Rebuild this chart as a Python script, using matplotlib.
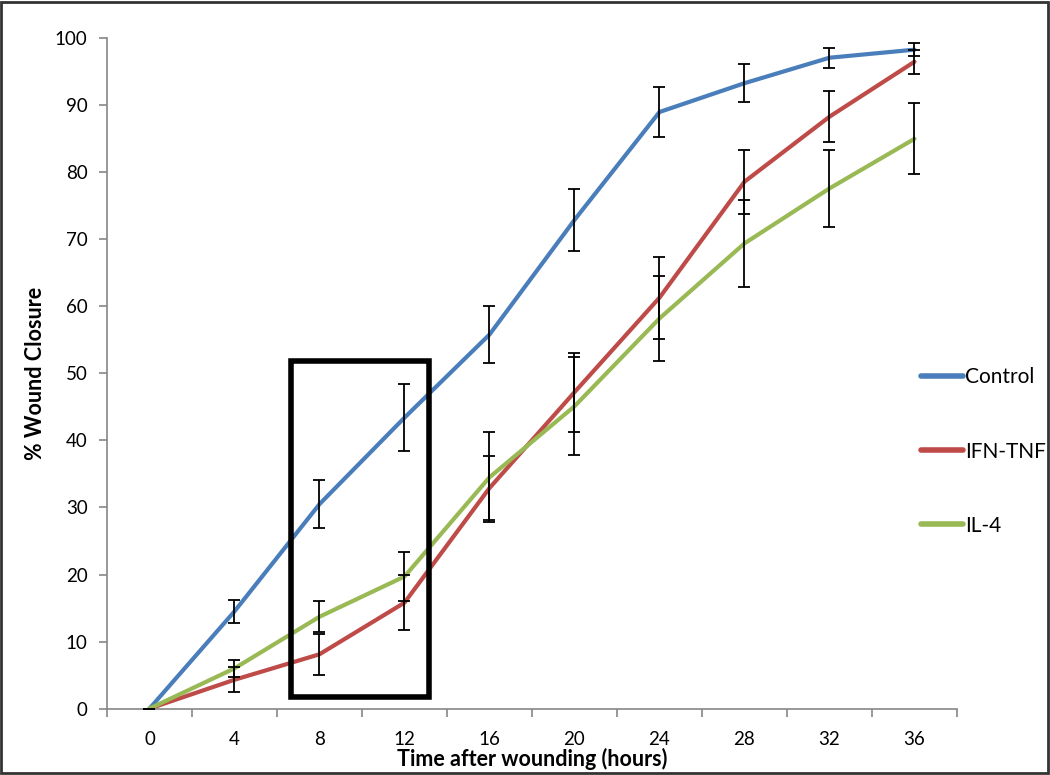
import numpy as np
import matplotlib
matplotlib.use("Agg")
import matplotlib.pyplot as plt
from matplotlib.patches import Rectangle

plt.rcParams['font.family'] = ['Lato', 'DejaVu Sans']

# data
hours = ['0', '4', '8', '12', '16', '20', '24', '28', '32', '36']
control = [0, 14.5, 30.5, 43.4, 55.8, 72.9, 89.0, 93.3, 97.1, 98.3]
control_err = [0, 1.7, 3.6, 5.0, 4.3, 4.6, 3.8, 2.8, 1.5, 1.0]
ifn_tnf = [0, 4.3, 8.1, 15.8, 32.9, 47.2, 61.3, 78.6, 88.3, 96.5]
ifn_tnf_err = [0, 1.9, 3.1, 4.1, 4.8, 5.9, 6.1, 4.8, 3.8, 1.8]
il4 = [0, 6.0, 13.7, 19.7, 34.5, 45.1, 58.2, 69.4, 77.6, 85.0]
il4_err = [0, 1.3, 2.3, 3.7, 6.7, 7.3, 6.3, 6.5, 5.8, 5.3]

# highlight box around the 8-12 h window (category units, % closure)
box_x0, box_x1 = 1.67, 3.29
box_y0, box_y1 = 1.8, 51.8

series = [
    ('Control', control, control_err, '#4A7EBB'),
    ('IFN-TNF', ifn_tnf, ifn_tnf_err, '#BE4B48'),
    ('IL-4', il4, il4_err, '#98B954'),
]

fig = plt.figure(figsize=(10.5, 7.75), dpi=100)
ax = fig.add_axes([0.1019, 0.0857, 0.8095, 0.8649])

x = np.arange(len(hours))
for name, vals, err, col in series:
    ax.plot(x, vals, color=col, lw=3, label=name, zorder=3, solid_capstyle='round')
for name, vals, err, col in series:
    ax.errorbar(x, vals, yerr=err, fmt='none', ecolor='black', elinewidth=1.3,
                capsize=4.5, capthick=1.3, zorder=4)

ax.add_patch(Rectangle((box_x0, box_y0), box_x1 - box_x0, box_y1 - box_y0,
                       fill=False, edgecolor='black', lw=4, zorder=5))

ax.set_xlim(-0.5, len(hours) - 0.5)
ax.set_ylim(0, 100)
ax.set_yticks(np.arange(0, 101, 10))
ax.set_xticks(x)
ax.set_xticklabels(hours)
ax.set_xticks(np.arange(-0.5, len(hours), 1), minor=True)
ax.tick_params(axis='x', which='major', length=0, pad=16, labelsize=13.5)
ax.tick_params(axis='x', which='minor', length=6, width=1.2, color='#868686')
ax.tick_params(axis='y', length=6, width=1.2, color='#868686', pad=8, labelsize=13.5)

for s in ['top', 'right']:
    ax.spines[s].set_visible(False)
for s in ['left', 'bottom']:
    ax.spines[s].set_color('#868686')
    ax.spines[s].set_linewidth(1.2)

ax.set_xlabel('Time after wounding (hours)', fontsize=15.5, fontweight='bold', labelpad=0)
ax.set_ylabel('% Wound Closure', fontsize=15.5, fontweight='bold', labelpad=6)

leg = ax.legend(loc='center left', bbox_to_anchor=(921 / 1050, 0.4174),
                bbox_transform=fig.transFigure, frameon=False, fontsize=15,
                handlelength=2.0, handletextpad=0.1, labelspacing=2.6,
                borderpad=0, borderaxespad=0)
for h in leg.legend_handles:
    h.set_linewidth(4)

fig.patches.append(Rectangle((0.001, 0.002), 0.997, 0.996, transform=fig.transFigure,
                             fill=False, edgecolor='#333333', lw=2))

fig.savefig('out.png', dpi=100)
